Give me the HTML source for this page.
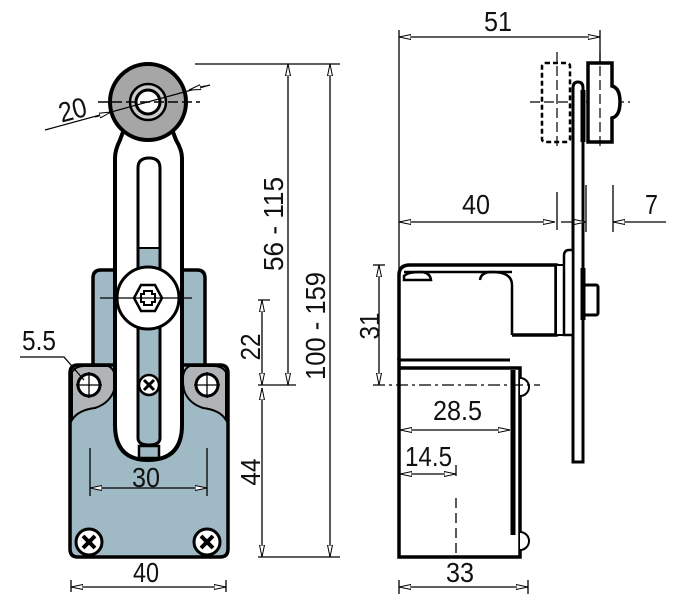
<!DOCTYPE html>
<html><head><meta charset="utf-8"><style>
html,body{margin:0;padding:0;background:#fff}
svg{display:block}
text{font-family:"Liberation Sans",sans-serif;font-size:28px;fill:#111}
</style></head><body>
<svg width="686" height="612" viewBox="0 0 686 612" xmlns="http://www.w3.org/2000/svg">
<defs>
<marker id="a" viewBox="0 0 12 6" refX="12" refY="3" markerWidth="12" markerHeight="6" orient="auto-start-reverse" markerUnits="userSpaceOnUse">
<path d="M0,0.5 L12,3 L0,5.5 Z" fill="#fff" stroke="#000" stroke-width="1"/>
</marker>
</defs>
<g stroke="#000" fill="none">
<path d="M93,370 V278 Q93,270 101,270 H197 Q205,270 205,278 V370 Z" fill="#9fbac4" stroke-width="3.5"/>
<path d="M78,365 H220 Q228,365 228,373 V549 Q228,557 220,557 H78 Q70,557 70,549 V373 Q70,365 78,365 Z" fill="#9fbac4" stroke-width="3.5"/>
<path d="M72,372 Q76,366 84,366 H108 Q118,370 114,390 Q110,403 95,408 Q78,410 72,420 Z" fill="#b0b4b6" stroke-width="2"/>
<path d="M226,372 Q222,366 214,366 H190 Q180,370 184,390 Q188,403 203,408 Q220,410 226,420 Z" fill="#b0b4b6" stroke-width="2"/>
<circle cx="89" cy="385" r="11" fill="#fff" stroke-width="3"/>
<circle cx="207" cy="385" r="11" fill="#fff" stroke-width="3"/>
<path d="M89,372V398M76,385H102M207,372V398M194,385H220" stroke-width="1.3"/>
<circle cx="89" cy="542" r="13" fill="#fff" stroke-width="3"/>
<circle cx="207" cy="542" r="13" fill="#fff" stroke-width="3"/>
<path d="M83,536 L95,548 M95,536 L83,548 M201,536 L213,548 M213,536 L201,548" stroke-width="4"/>
<path d="M115,380 V158 Q115,150 120,140 L126,124 H170 L176,140 Q182,150 182,158 V425 Q182,460 148,460 Q115,460 115,425 Z" fill="#fff" stroke-width="4"/>
<path d="M138,248 V438 Q138,445 149,445 Q160,445 160,438 V248 Z" fill="#9fbac4" stroke="none"/>
<path d="M138,438 V168 Q138,158 149,158 Q160,158 160,168 V438 Q160,445 149,445 Q138,445 138,438 Z" stroke-width="3"/>
<path d="M138,248 H160" stroke-width="2"/>
<circle cx="149" cy="385" r="10" fill="#fff" stroke-width="2.5"/>
<path d="M144,380 L154,390 M154,380 L144,390" stroke-width="3"/>
<rect x="139" y="446" width="20" height="12" fill="#9fbac4" stroke-width="2.5"/>
<circle cx="148" cy="102" r="38" fill="#a6a6a6" stroke-width="4"/>
<circle cx="148" cy="102" r="18" fill="#ccc" stroke-width="2.5"/>
<circle cx="148" cy="102" r="12" fill="#fff" stroke-width="3"/>
<path d="M98,102 H200" stroke-width="1.5" stroke-dasharray="10,4"/>
<circle cx="148" cy="298" r="31" fill="#fff" stroke-width="3"/>
<path d="M134,298 L141,285 H155 L162,298 L155,311 H141 Z" stroke-width="2.5"/>
<path d="M144,291 H152 V294 H155 V302 H152 V305 H144 V302 H141 V294 H144 Z" stroke-width="2"/>
<path d="M100,298 H192" stroke-width="1.3"/>
<path d="M45,130 L210,85" stroke-width="1.2"/>
<path d="M95,117 L111,112" stroke-width="1.2" marker-end="url(#a)"/>
<path d="M205,86 L189,90" stroke-width="1.2" marker-end="url(#a)"/>
<path d="M20,357 H64 L84,380" stroke-width="1.3"/>
<path d="M90,448 V496 M207,448 V496" stroke-width="1.3"/>
<path d="M90,488 H207" stroke-width="1.3" marker-start="url(#a)" marker-end="url(#a)"/>
<path d="M71,580 V592 M226,580 V592" stroke-width="1.3"/>
<path d="M71,587 H226" stroke-width="1.3" marker-start="url(#a)" marker-end="url(#a)"/>
<path d="M195,64 H340 M258,557 H340 M258,385 H296 M258,300 H270" stroke-width="1.3"/>
<path d="M262,300 V385" stroke-width="1.3" marker-start="url(#a)" marker-end="url(#a)"/>
<path d="M262,388 V557" stroke-width="1.3" marker-start="url(#a)" marker-end="url(#a)"/>
<path d="M288,64 V385" stroke-width="1.3" marker-start="url(#a)" marker-end="url(#a)"/>
<path d="M330,64 V557" stroke-width="1.3" marker-start="url(#a)" marker-end="url(#a)"/>

<path d="M399,30 V557 M600,30 V62" stroke-width="1.3"/>
<path d="M399,37 H600" stroke-width="1.3" marker-start="url(#a)" marker-end="url(#a)"/>
<rect x="542" y="63" width="28" height="79" rx="3" stroke-width="2.5" stroke-dasharray="5,3"/>
<path d="M557,52 V150 M530,102 H630" stroke-width="1.2" stroke-dasharray="10,4"/>
<path d="M588,63 H612 V86 Q620,88 620,102 Q620,116 612,118 V142 H588 Z" fill="#fff" stroke-width="3.5"/>
<path d="M600,52 V148" stroke-width="1.2" stroke-dasharray="10,4"/>
<path d="M573,462 V88 Q573,82 578,82 Q583,82 583,88 V462 Z" fill="#fff" stroke-width="3"/>
<path d="M583,90 V142" stroke-width="5"/>
<path d="M557,192 V230 M586,185 V232 M613,185 V232" stroke-width="1.3"/>
<path d="M399,222 H555" stroke-width="1.3" marker-start="url(#a)" marker-end="url(#a)"/>
<path d="M561,222 H586" stroke-width="1.3" marker-end="url(#a)"/>
<path d="M666,222 H613" stroke-width="1.3" marker-end="url(#a)"/>
<path d="M399,360 V275 Q399,265 410,265 H556 V335 H512" fill="#fff" stroke-width="3.5"/>
<path d="M404,276 Q408,272 420,272 Q430,272 431,280 H404 Z M480,280 Q481,272 492,272 Q512,272 512,285 V335" stroke-width="2.5" fill="#fff"/>
<path d="M404,272 H512" stroke-width="2.5"/>
<rect x="556" y="265" width="8" height="70" fill="#fff" stroke-width="2"/>
<path d="M564,335 V256 Q564,250 569,250 H573 V335 Z" fill="#fff" stroke-width="2.5"/>
<path d="M583,268 V320" stroke-width="5"/>
<rect x="584" y="285" width="14" height="30" rx="2" fill="#fff" stroke-width="3"/>
<path d="M399,360 H510" stroke-width="3"/>
<path d="M399,358 V557 H520 V368 H399" fill="#fff" stroke-width="3.5"/>
<path d="M513,370 V535" stroke-width="5"/>
<path d="M520,378 A9,9 0 0 1 520,396 M520,532 A9,9 0 0 1 520,550" fill="#fff" stroke-width="2"/>
<path d="M373,385 H540" stroke-width="1.3" stroke-dasharray="12,4,3,4"/>
<path d="M456,498 V555" stroke-width="1.3" stroke-dasharray="10,5"/>
<path d="M373,265 H385" stroke-width="1.3"/>
<path d="M379,265 V385" stroke-width="1.3" marker-start="url(#a)" marker-end="url(#a)"/>
<path d="M400,430 H510" stroke-width="1.3" marker-start="url(#a)" marker-end="url(#a)"/>
<path d="M456,465 V476" stroke-width="1.3"/>
<path d="M400,474 H456" stroke-width="1.3" marker-start="url(#a)" marker-end="url(#a)"/>
<path d="M399,580 V594 M528,580 V594" stroke-width="1.3"/>
<path d="M399,587 H528" stroke-width="1.3" marker-start="url(#a)" marker-end="url(#a)"/>
</g>
<g>
<text x="58" y="120" transform="rotate(-15 70 108)" textLength="28" lengthAdjust="spacingAndGlyphs">20</text>
<text x="22" y="350" textLength="34" lengthAdjust="spacingAndGlyphs">5.5</text>
<text x="132" y="487" textLength="28" lengthAdjust="spacingAndGlyphs">30</text>
<text x="133" y="582" textLength="26" lengthAdjust="spacingAndGlyphs">40</text>
<text transform="translate(260,347) rotate(-90)" text-anchor="middle" textLength="27" lengthAdjust="spacingAndGlyphs">22</text>
<text transform="translate(260,472) rotate(-90)" text-anchor="middle" textLength="27" lengthAdjust="spacingAndGlyphs">44</text>
<text transform="translate(283,224) rotate(-90)" text-anchor="middle" textLength="94" lengthAdjust="spacingAndGlyphs">56 - 115</text>
<text transform="translate(325,326) rotate(-90)" text-anchor="middle" textLength="108" lengthAdjust="spacingAndGlyphs">100 - 159</text>
<text x="484" y="31" textLength="28" lengthAdjust="spacingAndGlyphs">51</text>
<text x="462" y="214" textLength="28" lengthAdjust="spacingAndGlyphs">40</text>
<text x="645" y="214" textLength="13" lengthAdjust="spacingAndGlyphs">7</text>
<text transform="translate(379,326) rotate(-90)" text-anchor="middle" textLength="27" lengthAdjust="spacingAndGlyphs">31</text>
<text x="433" y="420" textLength="49" lengthAdjust="spacingAndGlyphs">28.5</text>
<text x="405" y="466" textLength="47" lengthAdjust="spacingAndGlyphs">14.5</text>
<text x="446" y="582" textLength="28" lengthAdjust="spacingAndGlyphs">33</text>
</g>
</svg>
</body></html>
